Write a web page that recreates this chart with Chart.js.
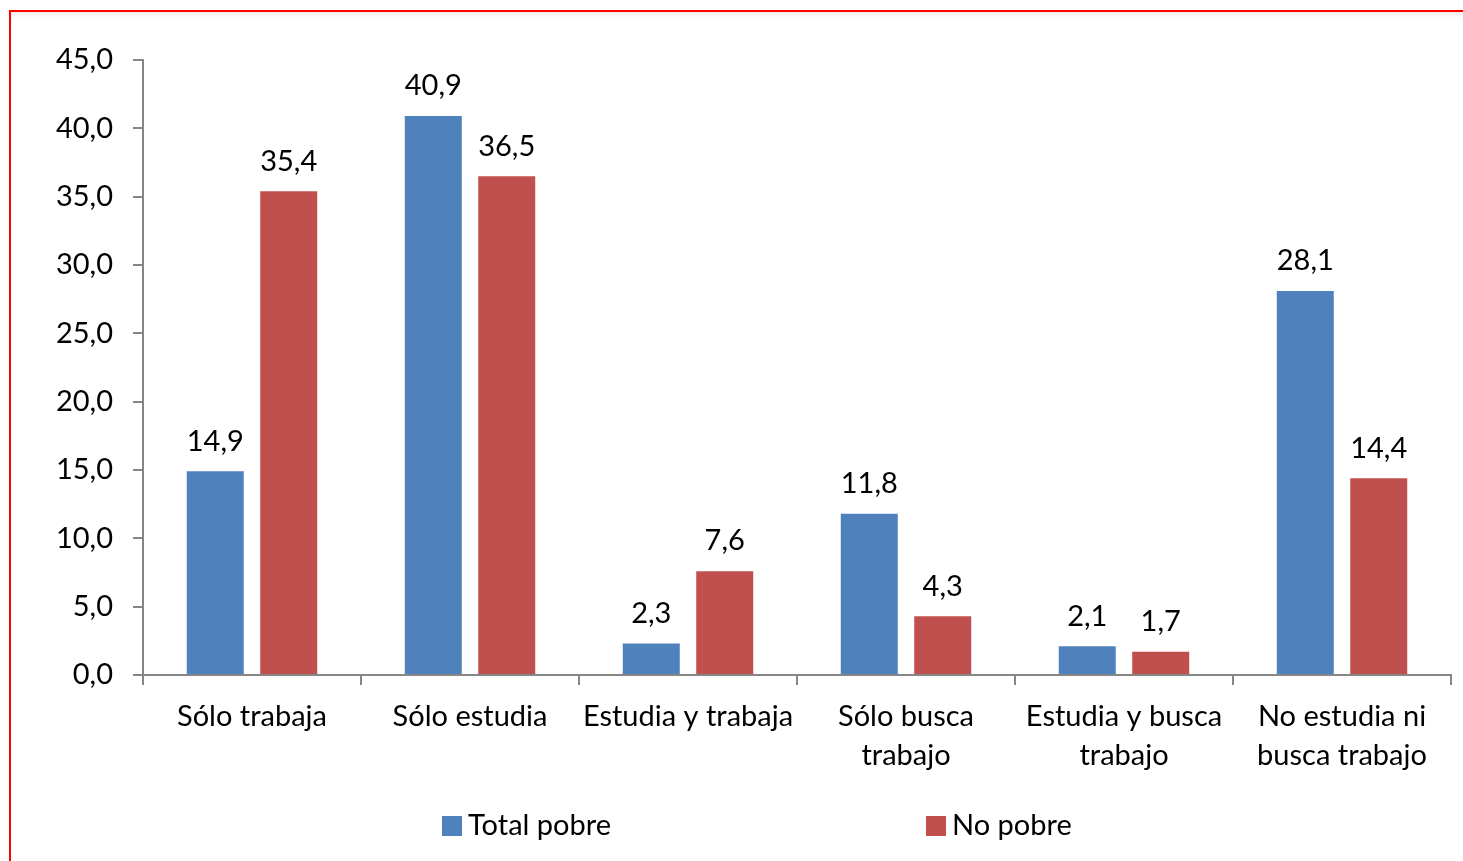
<!DOCTYPE html>
<html>
<head>
<meta charset="utf-8">
<script src="https://cdn.jsdelivr.net/npm/chart.js@4.4.1/dist/chart.umd.min.js"></script>
<style>
  html, body { margin: 0; padding: 0; background: #fff; overflow: hidden; }
  #frame {
    position: absolute; left: 9px; top: 10px; width: 1600px; height: 1000px;
    border-left: 2px solid #ff0000; border-top: 2px solid #ff0000;
    box-shadow: inset 0 6px 8px -6px rgba(0,0,0,0.15);
  }
  #wrap { position: absolute; left: 0; top: 0; width: 1463px; height: 861px; }
</style>
</head>
<body>
<div id="frame"></div>
<div id="wrap"><canvas id="chart"></canvas></div>
<script>
const categories = [
  'Sólo trabaja',
  'Sólo estudia',
  'Estudia y trabaja',
  ['Sólo busca', 'trabajo'],
  ['Estudia y busca', 'trabajo'],
  ['No estudia ni', 'busca trabajo']
];
const totalPobre = [14.9, 40.9, 2.3, 11.8, 2.1, 28.1];
const noPobre = [35.4, 36.5, 7.6, 4.3, 1.7, 14.4];
const seriesNames = ['Total pobre', 'No pobre'];

const FONT = "Lato, 'Noto Sans', sans-serif";
const FSIZE = 29;
const fmt = v => v.toFixed(1).replace('.', ',');

Chart.defaults.font.family = FONT;
Chart.defaults.font.size = FSIZE;
Chart.defaults.color = '#000';

// value labels above each bar
const barLabels = {
  id: 'barLabels',
  afterDatasetsDraw(chart) {
    const {ctx} = chart;
    ctx.save();
    ctx.font = FSIZE + 'px ' + FONT;
    ctx.fillStyle = '#000';
    ctx.textAlign = 'center';
    ctx.textBaseline = 'middle';
    chart.data.datasets.forEach((ds, i) => {
      chart.getDatasetMeta(i).data.forEach((bar, j) => {
        ctx.fillText(fmt(ds.data[j]), bar.x, bar.y - 30);
      });
    });
    ctx.restore();
  }
};

// legend drawn at the bottom, spaced like the original
const wideLegend = {
  id: 'wideLegend',
  afterDraw(chart, args, opts) {
    const {ctx} = chart;
    ctx.save();
    ctx.font = FSIZE + 'px ' + FONT;
    ctx.textBaseline = 'middle';
    ctx.textAlign = 'left';
    chart.data.datasets.forEach((ds, i) => {
      const x = opts.xs[i];
      ctx.fillStyle = ds.backgroundColor;
      ctx.fillRect(x, opts.y - 10, 20, 20);
      ctx.fillStyle = '#000';
      ctx.fillText(ds.label, x + 26, opts.y);
    });
    ctx.restore();
  }
};

new Chart(document.getElementById('chart'), {
  type: 'bar',
  data: {
    labels: categories,
    datasets: [
      { label: seriesNames[0], data: totalPobre, backgroundColor: '#4F81BD' },
      { label: seriesNames[1], data: noPobre, backgroundColor: '#C0504D' }
    ]
  },
  options: {
    responsive: true,
    maintainAspectRatio: false,
    animation: false,
    categoryPercentage: 0.674,
    barPercentage: 0.776,
    layout: { padding: { top: 60, right: 12, left: 0, bottom: 0 } },
    plugins: {
      legend: { display: false },
      tooltip: { enabled: false },
      wideLegend: { xs: [442, 926], y: 826 }
    },
    scales: {
      x: {
        grid: { display: true, drawOnChartArea: false, tickLength: 10, color: '#868686', lineWidth: 2 },
        border: { color: '#868686', width: 2 },
        ticks: { padding: 12, maxRotation: 0, autoSkip: false, font: { size: FSIZE, lineHeight: 39 / FSIZE } },
        afterFit(scale) { scale.height = 186; }
      },
      y: {
        min: 0,
        max: 45,
        grid: { display: true, drawOnChartArea: false, tickLength: 10, color: '#868686', lineWidth: 2 },
        border: { color: '#868686', width: 2 },
        ticks: { stepSize: 5, padding: 20, callback: v => fmt(v) },
        afterFit(scale) { scale.width = 143; }
      }
    }
  },
  plugins: [barLabels, wideLegend]
});
</script>
</body>
</html>
